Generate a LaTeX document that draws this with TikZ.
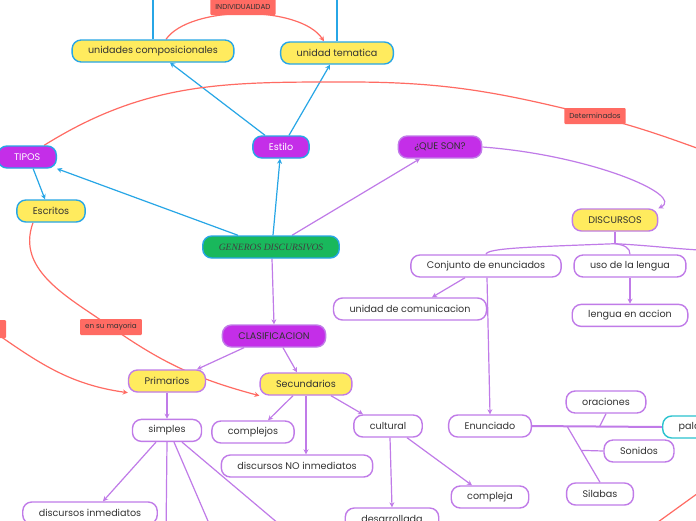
\documentclass[tikz,border=0pt]{standalone}
\usepackage{fontspec}
\setmainfont{Poppins}
\newfontfamily\genfont{Liberation Serif}
\usetikzlibrary{arrows.meta,positioning,calc,backgrounds}
\definecolor{ink}{HTML}{333333}
\definecolor{skyb}{HTML}{27A6E6}
\definecolor{lilac}{HTML}{C07BE8}
\definecolor{grape}{HTML}{C42EE8}
\definecolor{sunny}{HTML}{FFEB5E}
\definecolor{leaf}{HTML}{19B85C}
\definecolor{coral}{HTML}{FF6B63}
\definecolor{aqua}{HTML}{2BC3CF}

\begin{document}
\begin{tikzpicture}[x=1pt,y=-1pt,
  st/.style={draw=lilac,fill=white,rounded corners=9pt,line width=1.4pt,minimum height=22pt,inner xsep=16pt,inner ysep=0pt,font=\fontsize{9.6}{11}\selectfont,text=ink},
  yel/.style={st,fill=sunny},
  yelb/.style={yel,draw=skyb},
  pur/.style={st,fill=grape},
  purb/.style={pur,draw=skyb,text=white},
  root/.style={st,fill=leaf,draw=skyb,text=black!75},
  wire/.style={st,draw=aqua},
  tag/.style={fill=coral,rounded corners=1pt,minimum height=16pt,inner xsep=5pt,inner ysep=0pt,font=\fontsize{7.2}{8}\selectfont,text=ink},
  arr/.style={-{Stealth[length=5pt,width=5pt]},draw=lilac,line width=1.2pt},
  ln/.style={draw=lilac,line width=1.2pt},
  barr/.style={arr,draw=skyb},
  bln/.style={ln,draw=skyb},
  rarr/.style={arr,draw=coral},
  rln/.style={ln,draw=coral}]
\useasboundingbox (0,0) rectangle (696,520);
\clip (0,0) rectangle (696,520);
% top: style and its parts
\node[yelb] (ucomp) at (153,51) {unidades composicionales};
\node[yelb] (utem) at (337,53) {unidad tematica};
\node[tag] (indiv) at (243,7) {INDIVIDUALIDAD};
\node[purb] (estilo) at (281,147) {Estilo};
\node[purb,anchor=east] (tipos) at (57,157) {TIPOS};
\node[yelb] (escritos) at (51,211) {Escritos};
\node[root] (gen) at (271,247) {\genfont\itshape GENEROS DISCURSIVOS};
\node[pur] (queson) at (440,147) {¿QUE SON?};
\node[tag] (determ) at (595,116) {Determinados};
% right: discursos
\node[yel] (disc) at (615,220) {DISCURSOS};
\node[st] (conj) at (486,266) {Conjunto de enunciados};
\node[st] (uso) at (630,266) {uso de la lengua};
\node[st,below=26pt of uso] (lengua) {lengua en accion};
\node[st] (unicom) at (410,309) {unidad de comunicacion};
\node[st] (enun) at (490,426) {Enunciado};
\node[wire,anchor=west] (palabras) at (662,427) {palabras};
\node[st] (orac) at (606,402) {oraciones};
\node[st] (sonidos) at (639,451) {Sonidos};
\node[st] (silabas) at (600,494) {Silabas};
% bottom: clasificacion
\node[pur] (clasif) at (274,336) {CLASIFICACION};
\node[yel] (prim) at (167,381) {Primarios};
\node[yel] (sec) at (306,384) {Secundarios};
\node[st,below=26pt of prim] (simples) {simples};
\node[st] (dinm) at (90,513) {discursos inmediatos};
\node[st] (complejos) at (253,432) {complejos};
\node[st] (dnoinm) at (297,466) {discursos NO inmediatos};
\node[st] (cultural) at (388,426) {cultural};
\node[st] (desarr) at (392,519) {desarrollada};
\node[st] (compleja) at (490,497) {compleja};
\node[tag] (enmay) at (111,327) {en su mayoria};
\node[tag,minimum width=32pt,minimum height=18pt] (lefttag) at (-10,329) {};
% free ends off the page
\coordinate (ucompTop) at (153,-10);
\coordinate (utemTop) at (337,-10);
\coordinate (detEnd) at (760,170);
\coordinate (redIn) at (730,470);
\coordinate (redOut) at (640,535);
\coordinate (discR) at (720,251);
\coordinate (simA) at (166,535);
\coordinate (simB) at (214,535);
\coordinate (simC) at (292,535);

\begin{scope}[on background layer]
\clip (0,0) rectangle (696,520);
\fill[white] (0,0) rectangle (696,520);
\draw[bln] (ucomp.north)--(ucompTop); \draw[bln] (utem.north)--(utemTop);
\draw[rarr] ([xshift=13]ucomp.north) .. controls (190,5) and (300,5) .. ([xshift=-13]utem.north);
\draw[barr] ([xshift=-16]estilo.north)--([xshift=17]ucomp.south);
\draw[barr] ([xshift=8]estilo.north)--([xshift=-7]utem.south);
\draw[rln] ([xshift=17]tipos.north) to[out=32,in=180] (350,82) to[out=0,in=166] (determ.center) to[out=-14,in=162] (detEnd);
\draw[rln] (redIn)--(redOut);
\draw[barr] ([xshift=-33]gen.north)--(tipos.south east);
\draw[barr] ([xshift=2]gen.north)--([xshift=-1]estilo.south);
\draw[arr] ([xshift=21]gen.north)--([xshift=-20]queson.south);
\draw[arr] ([xshift=1]gen.south)--(clasif.north);
\draw[barr] ([xshift=6]tipos.south)--([xshift=-6]escritos.north);
\draw[arr] (queson.east) .. controls (590,155) and (685,195) .. (disc.north east);
\draw[ln] (disc.south)--++(0,12) coordinate (dsplit);
\draw[ln] (dsplit) .. controls (530,247) and (487,248) .. (conj.north);
\draw[ln] (dsplit) .. controls (625,245) and (630,248) .. (uso.north);
\draw[ln] (dsplit) to[out=-3,in=178] (discR);
\draw[arr] (uso.south)--(lengua.north);
\draw[arr] ([xshift=-21]conj.south)--([xshift=22]unicom.north);
\draw[arr] ([xshift=1]conj.south)--(enun.north);
\draw[ln,line width=2pt] (enun.east)-- coordinate[pos=0.27] (silJ) coordinate[pos=0.52] (oraJ) (palabras.west);
\draw[ln] (oraJ)--(orac.south);
\draw[ln] (silJ)-- coordinate[pos=0.43] (sonJ) (silabas.north);
\draw[ln] (sonJ)--(sonidos.west);
\draw[arr] ([xshift=-30]clasif.south)--([xshift=30]prim.north);
\draw[arr] ([xshift=9]clasif.south)--([xshift=-9]sec.north);
\draw[rarr] ([xshift=-18]escritos.south) to[out=-110,in=145] (enmay.center) to[out=-35,in=165] (sec.south west);
\draw[rarr] (lefttag.center) to[out=-35,in=172] (prim.south west);
\draw[arr] (prim.south)--(simples.north);
\draw[arr] ([xshift=-11]simples.south)--([xshift=13]dinm.north);
\draw[ln] (simples.south)--(simA);
\draw[ln] ([xshift=7]simples.south)--(simB);
\draw[ln] ([xshift=15]simples.south)--(simC);
\draw[arr] ([xshift=-13]sec.south)--([xshift=15]complejos.north);
\draw[arr] (sec.south)--([xshift=9]dnoinm.north);
\draw[arr] ([xshift=25]sec.south)--([xshift=-25]cultural.north);
\draw[arr] ([xshift=2]cultural.south)--(desarr.north);
\draw[arr] ([xshift=19]cultural.south)--([xshift=-18]compleja.north);
\end{scope}
\end{tikzpicture}
\end{document}
